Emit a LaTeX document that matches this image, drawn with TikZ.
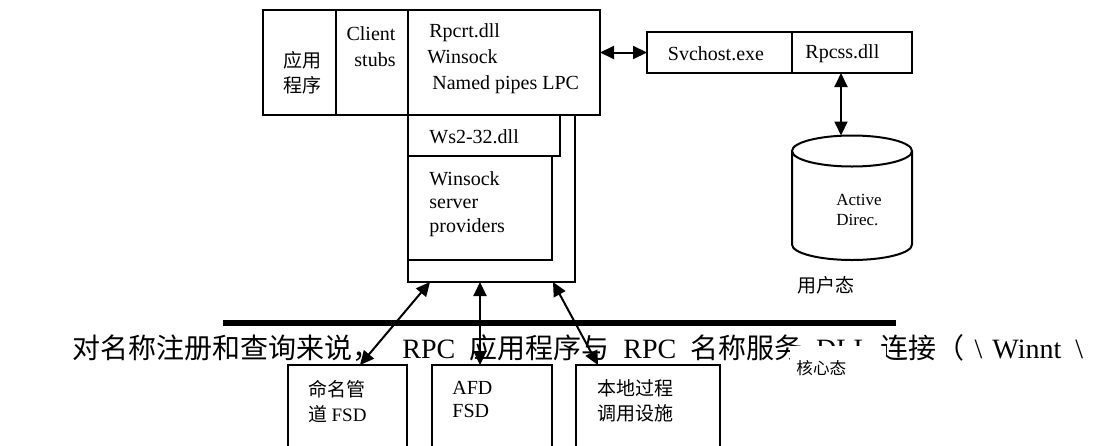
\documentclass[tikz,border=0pt]{standalone}
\usepackage{fontspec}
\setmainfont{Liberation Serif}
\newfontfamily\cjk{Noto Sans CJK SC}
\usetikzlibrary{arrows.meta,calc}

\begin{document}
\begin{tikzpicture}[x=0.5pt, y=-0.5pt,
    >={Triangle[length=7pt,width=6.5pt]},
    box/.style={draw, line width=1pt, fill=white, anchor=north west, inner sep=0pt, outer sep=0pt},
    lat/.style={font=\fontsize{10pt}{13pt}\selectfont, align=left, inner sep=0pt},
    han/.style={font=\cjk\fontsize{9.5pt}{12.5pt}\selectfont, align=left, inner sep=0pt},
    link/.style={<->, line width=1pt}]
  \clip (0,0) rectangle (1113,445);

  % caption sentence, partly hidden by the boxes below
  \node[anchor=base west, inner sep=0pt, font=\fontsize{14pt}{16pt}\selectfont] (note) at (72,358.5)
    {{\cjk 对名称注册和查询来说，}\hspace{11pt}RPC\hspace{7pt}{\cjk 应用程序与}\hspace{7pt}RPC\hspace{7pt}{\cjk 名称服务}\hspace{7pt}DLL\hspace{5pt}{\cjk 连接（}\hspace{5pt}\textbackslash\hspace{5pt}Winnt\hspace{7pt}\textbackslash};

  % user / kernel divider
  \draw[line width=3pt] (223,323) -- (896,323);

  % client process
  \node[box, minimum width=36.5pt, minimum height=52.5pt] (appbox) at (263,10) {};
  \node[box, minimum width=36pt, minimum height=52.5pt] (stubbox) at (336,10) {};
  \node[box, minimum width=96pt, minimum height=52.5pt] (rpcbox) at (408,10) {};
  \node[han] (appname) at (302,72.5) {应用\\程序};
  \node[lat, align=center] (stubname) at (371,46.5) {Client\\\hspace{4pt}stubs};
  \node[lat, anchor=west] (rpcname) at (427,59) {\hspace{1pt}Rpcrt.dll\\Winsock\\\hspace{2.5pt}Named pipes LPC};

  % winsock stack
  \node[box, minimum width=83.5pt, minimum height=83.5pt] (outerbox) at (408,115) {};
  \node[box, minimum width=76pt, minimum height=20.5pt] (wsbox) at (408,115) {};
  \node[box, minimum width=72pt, minimum height=52pt] (provbox) at (408,156) {};
  \node[lat, anchor=west] (wsname) at (429,137) {Ws2-32.dll};
  \node[lat, anchor=west, font=\fontsize{10pt}{11.75pt}\selectfont] (provname) at (429,204) {Winsock\\server\\providers};

  % service host
  \node[box, minimum width=72.5pt, minimum height=20.5pt] (svcbox) at (647,32) {};
  \node[box, minimum width=60pt, minimum height=20.5pt] (rpcssbox) at (792,32) {};
  \node[lat] (svcname) at (716,54) {Svchost.exe};
  \node[lat, anchor=west] (rpcssname) at (805,54) {Rpcss.dll};

  % directory store
  \draw[line width=1pt, fill=white] (792,151) -- (792,244.5) arc[start angle=180, end angle=0, x radius=60, y radius=15.5] -- (912,151);
  \draw[line width=1pt] (852,151) ellipse[x radius=60, y radius=15.5];
  \coordinate (adtop) at (841,135.5);
  \node[lat, anchor=west, font=\fontsize{8.5pt}{10pt}\selectfont] (addb) at (836,210) {Active\\Direc.};

  % kernel side drivers
  \node[box, minimum width=59.5pt, minimum height=50pt] (npfs) at (288,365) {};
  \node[box, minimum width=60pt, minimum height=50pt] (afd) at (432,365) {};
  \node[box, minimum width=72pt, minimum height=50pt] (lpcbox) at (576,365) {};
  \node[han, anchor=west] (npfsname) at (308,402) {命名管\\道 {\rmfamily FSD}};
  \node[lat, anchor=west, font=\fontsize{10pt}{11.5pt}\selectfont] (afdname) at (452,399) {AFD\\FSD};
  \node[han, anchor=west] (lpcname) at (597,401) {本地过程\\调用设施};

  % mode labels
  \node[han, font=\cjk\fontsize{9.5pt}{11pt}\selectfont] (usermode) at (826,285) {用户态};
  \node[fill=white, anchor=north west, font=\cjk\fontsize{8.3pt}{10pt}\selectfont, text width=42pt, align=left,
        inner xsep=3pt, inner ysep=0pt, minimum height=22pt] (kernelmode) at (790,346) {核心态};

  % connections
  \draw[link] (rpcbox.east |- svcbox.west) -- (svcbox.west);
  \draw[link] (rpcssbox.south -| adtop) -- (adtop);
  \draw[link] ($(outerbox.south west)+(22,0)$) -- ($(npfs.north west)+(72,0)$);
  \draw[link] ($(outerbox.south west)+(72,0)$) -- ($(afd.north west)+(48,0)$);
  \draw[link] ($(outerbox.south west)+(145,0)$) -- ($(lpcbox.north west)+(22,0)$);
\end{tikzpicture}
\end{document}
